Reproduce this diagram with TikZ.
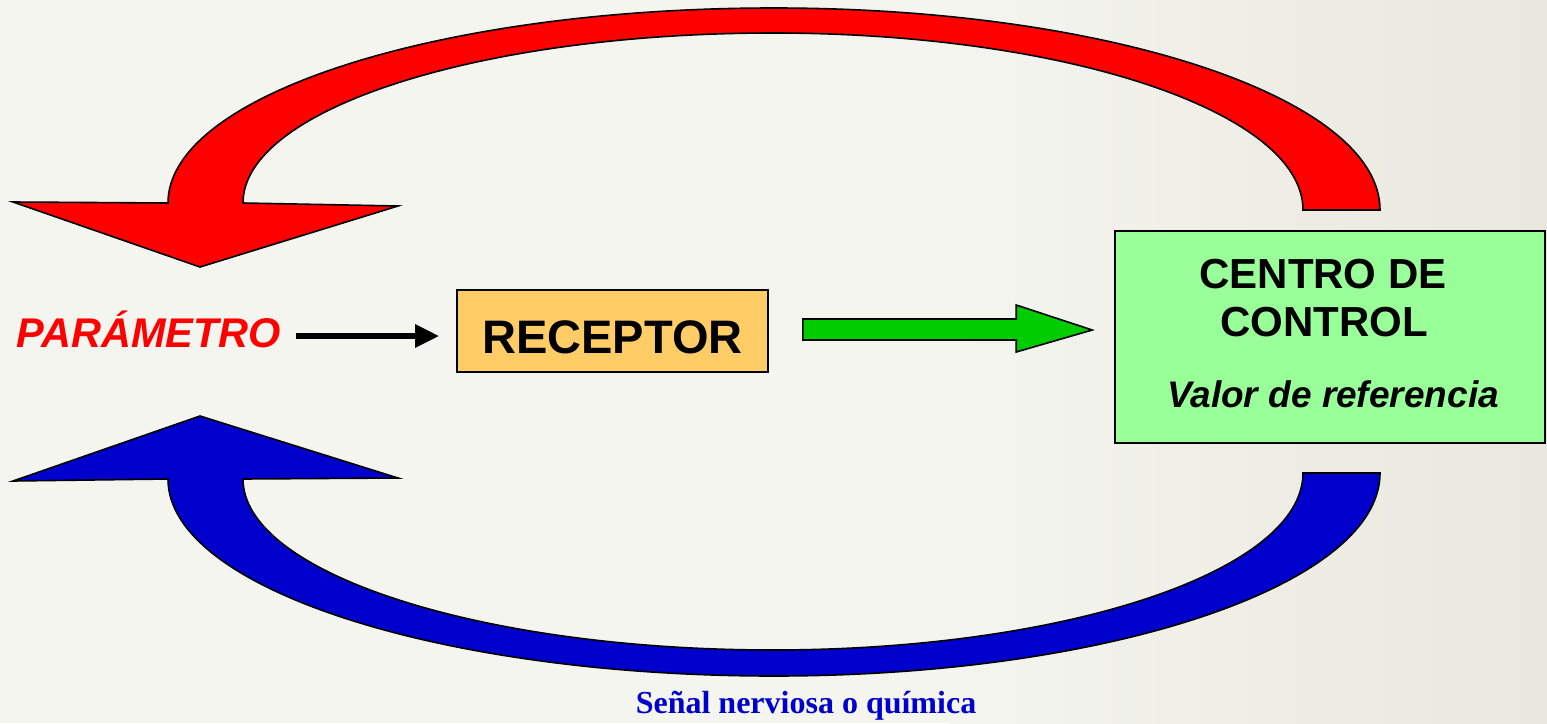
\documentclass[tikz,border=0pt]{standalone}
\usepackage{fontspec}
\setmainfont{Liberation Sans}
\newfontfamily\serifbold{Liberation Serif}
\usetikzlibrary{calc,arrows.meta}
\definecolor{bgcol}{HTML}{F5F5F0}
\definecolor{bgcolb}{HTML}{E8E8DE}
\definecolor{redfill}{HTML}{FF0000}
\definecolor{bluefill}{HTML}{0000CC}
\definecolor{greenfill}{HTML}{00CC00}
\definecolor{recfill}{HTML}{FFCC66}
\definecolor{cenfill}{HTML}{99FF99}
\definecolor{textblue}{HTML}{0000CC}
\begin{document}
\begin{tikzpicture}[x=1pt,y=-1pt,
  outline/.style={draw=black,line width=1.6pt,line join=miter},
  boxstyle/.style={draw=black,line width=1.6pt,inner sep=0pt},
  txt/.style={inner sep=0pt,anchor=base},
  bigfont/.style={font=\fontsize{42}{46}\bfseries\selectfont},
]
\fill[bgcol] (0,0) rectangle (1547,723);
\shade[left color=bgcol,right color=bgcolb] (950,0) rectangle (1547,723);
\useasboundingbox (0,0) rectangle (1547,723);

% red feedback arrow (top)
\path[outline,fill=redfill] (13,202) -- (168,203)
  .. controls (168,95) and (439,8) .. (774,8)
  .. controls (1109,8) and (1380,98) .. (1380,210)
  -- (1303,210)
  .. controls (1303,112) and (1066,33) .. (773,33)
  .. controls (480,33) and (243,109) .. (243,203)
  -- (398,206) -- (200,267) -- cycle;

% blue feedback arrow (bottom)
\path[outline,fill=bluefill] (13,481) -- (168,479)
  .. controls (168,588) and (439,676) .. (774,676)
  .. controls (1109,676) and (1380,585) .. (1380,473)
  -- (1303,473)
  .. controls (1303,571) and (1066,650) .. (773,650)
  .. controls (480,650) and (243,573) .. (243,479)
  -- (398,478) -- (200,416) -- cycle;

% nodes
\node[boxstyle,fill=recfill,minimum width=311pt,minimum height=82pt,
      text height=45pt,text depth=0pt,font=\fontsize{47}{50}\bfseries\selectfont]
      (receptor) at (612.5,331) {RECEPTOR};
\node[boxstyle,fill=cenfill,minimum width=430pt,minimum height=212pt]
      (centro) at (1330,337) {};
\node[txt,bigfont] (centroA) at (1323,288) {CENTRO DE};
\node[txt,bigfont] (centroB) at (1324,336) {CONTROL};
\node[txt,font=\fontsize{37}{40}\bfseries\itshape\selectfont] (valor) at (1333,407) {Valor de referencia};
\node[inner sep=0pt,text height=30pt,text depth=8pt,text=redfill,
      font=\fontsize{41.5}{45}\bfseries\itshape\selectfont] (parametro) at (149,336) {PARÁMETRO};
\node[txt,text=textblue,font=\serifbold\fontsize{32}{36}\bfseries\selectfont] (senal) at (806,713) {Señal nerviosa o química};

% black arrow
\draw[line width=5.5pt,-{Triangle[length=24pt,width=22pt]},shorten <=15pt,shorten >=17pt]
  (parametro.east) -- (parametro.east -| receptor.west);

% green block arrow
\path[outline,fill=greenfill]
  ($(receptor.east)+(34,-12)$) -- ($(centro.west)+(-98,-18)$) -- ($(centro.west)+(-98,-32)$)
  -- ($(centro.west)+(-22,-7)$) -- ($(centro.west)+(-98,15)$) -- ($(centro.west)+(-98,3)$)
  -- ($(receptor.east)+(34,9)$) -- cycle;
\end{tikzpicture}
\end{document}
